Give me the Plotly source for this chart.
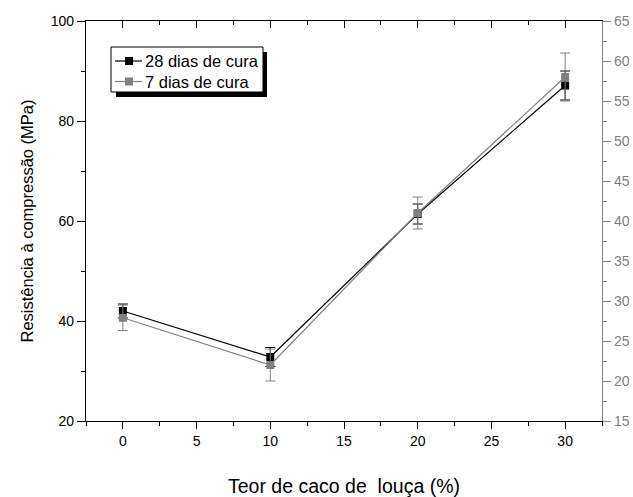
import plotly.graph_objects as go

teor = [0, 10, 20, 30]
res_28 = [42.0, 32.8, 61.4, 87.1]
err_28 = [1.4, 1.9, 2.0, 2.9]
res_7 = [27.9, 22.0, 41.0, 58.0]
err_7 = [1.6, 2.0, 2.0, 3.0]
series_names = ["28 dias de cura", "7 dias de cura"]

FONT = "Arial"
GRAY = "#808080"

fig = go.Figure()
fig.add_trace(go.Scatter(
    x=teor, y=res_28, name=series_names[0], mode="lines+markers",
    line=dict(color="black", width=1.2),
    marker=dict(symbol="square", size=8, color="black"),
    error_y=dict(type="data", array=err_28, color="black", thickness=1, width=5),
    xaxis="x", yaxis="y", showlegend=False))
fig.add_trace(go.Scatter(
    x=teor, y=res_7, name=series_names[1], mode="lines+markers",
    line=dict(color=GRAY, width=1.2),
    marker=dict(symbol="square", size=8, color=GRAY),
    error_y=dict(type="data", array=err_7, color=GRAY, thickness=1, width=5),
    xaxis="x", yaxis="y2", showlegend=False))
fig.add_trace(go.Scatter(x=[teor[0]], y=[res_28[0]], xaxis="x2", yaxis="y",
                         mode="markers", marker=dict(opacity=0), showlegend=False,
                         hoverinfo="skip"))

# plot area: left 86, width 516, top 21, height 400 (pixels)
def px(x):
    return (x - 86) / 516.0

def py(y):
    return 1 - (y - 21) / 400.0

shapes = [
    # legend shadow
    dict(type="rect", xref="paper", yref="paper", x0=px(116), x1=px(267),
         y0=py(97), y1=py(52), fillcolor="black", line=dict(width=0), layer="above"),
    # legend box
    dict(type="rect", xref="paper", yref="paper", x0=px(111), x1=px(263),
         y0=py(92), y1=py(47), fillcolor="white", line=dict(color="black", width=1),
         layer="above"),
]
annotations = []
for i, (name, col) in enumerate(zip(series_names, ["black", GRAY])):
    yc = 61 + 20.5 * i
    shapes.append(dict(type="line", xref="paper", yref="paper", x0=px(115), x1=px(142),
                       y0=py(yc), y1=py(yc), line=dict(color=col, width=1.2), layer="above"))
    shapes.append(dict(type="rect", xref="paper", yref="paper", x0=px(125), x1=px(133),
                       y0=py(yc + 4), y1=py(yc - 4), fillcolor=col, line=dict(width=0),
                       layer="above"))
    annotations.append(dict(text=name, xref="paper", yref="paper", x=px(143), y=py(yc),
                            xanchor="left", yanchor="middle", showarrow=False,
                            font=dict(size=16.5, family=FONT, color="black")))

fig.update_layout(
    width=633, height=497,
    margin=dict(l=86, r=31, t=21, b=76, autoexpand=False),
    paper_bgcolor="white", plot_bgcolor="white",
    font=dict(family=FONT, size=14, color="black"),
    showlegend=False,
    xaxis=dict(range=[-2.5, 32.5], tickvals=[0, 5, 10, 15, 20, 25, 30],
               automargin=False,
               ticks="outside", ticklen=7, tickwidth=1.3, tickcolor="black",
               showline=True, linecolor="black", linewidth=1.3,
               showgrid=False, zeroline=False,
               minor=dict(dtick=2.5, tick0=0, ticks="outside", ticklen=4,
                          tickwidth=1.3, tickcolor="black", showgrid=False),
               title=dict(text="Teor de caco de  louça (%)", font=dict(size=19.5),
                          standoff=31),
               tickfont=dict(size=14)),
    xaxis2=dict(range=[-2.5, 32.5], overlaying="x", side="top",
                automargin=False,
                tickvals=[0, 5, 10, 15, 20, 25, 30], showticklabels=False,
                ticks="inside", ticklen=7, tickwidth=1.3, tickcolor="black",
                showline=True, linecolor="black", linewidth=1.3,
                showgrid=False, zeroline=False,
                minor=dict(dtick=2.5, tick0=0, ticks="inside", ticklen=4,
                           tickwidth=1.3, tickcolor="black", showgrid=False)),
    yaxis=dict(range=[20, 100], tickvals=[20, 40, 60, 80, 100],
               automargin=False,
               ticks="outside", ticklen=8, tickwidth=1.3, tickcolor="black",
               showline=True, linecolor="black", linewidth=1.3,
               showgrid=False, zeroline=False,
               minor=dict(dtick=10, tick0=0, ticks="outside", ticklen=4,
                          tickwidth=1.3, tickcolor="black", showgrid=False),
               title=dict(text="Resistência à compressão (MPa)", font=dict(size=16.5),
                          standoff=12),
               tickfont=dict(size=14)),
    yaxis2=dict(range=[15, 65], overlaying="y", side="right",
                automargin=False,
                tickvals=[15, 20, 25, 30, 35, 40, 45, 50, 55, 60, 65],
                ticks="outside", ticklen=8, tickwidth=1.3, tickcolor=GRAY,
                showline=True, linecolor=GRAY, linewidth=1.3,
                showgrid=False, zeroline=False,
                minor=dict(dtick=2.5, tick0=0, ticks="outside", ticklen=4,
                           tickwidth=1.3, tickcolor=GRAY, showgrid=False),
                tickfont=dict(size=14, color=GRAY)),
    shapes=shapes,
    annotations=annotations,
)

fig.write_html("out.html", config={"displayModeBar": False},
               post_script="document.body.style.margin='0';document.body.style.overflow='hidden';")
